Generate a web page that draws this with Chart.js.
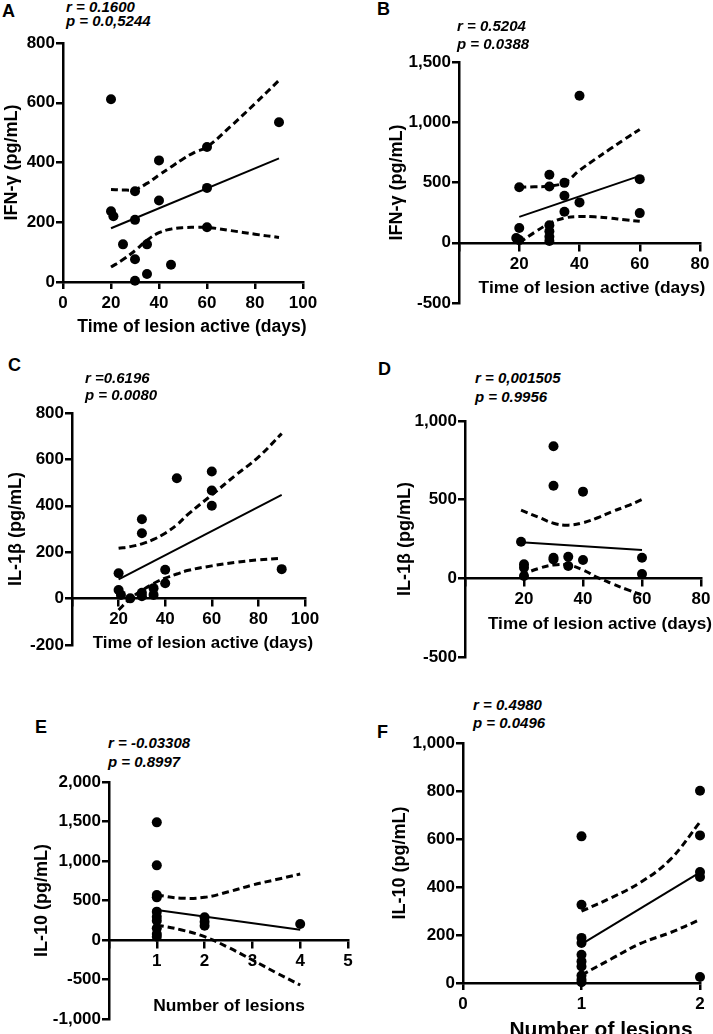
<!DOCTYPE html>
<html>
<head>
<meta charset="utf-8">
<script src="https://cdn.jsdelivr.net/npm/chart.js@4"></script>
<style>
  html, body { margin: 0; padding: 0; background: #fff; overflow: hidden; }
  #page { position: relative; width: 713px; height: 1034px; overflow: hidden; }
  canvas { position: absolute; }
  .lbl { position: absolute; font-family: "Liberation Sans", Arial, sans-serif; font-weight: bold; color: #000; white-space: nowrap; }
  .letter { font-size: 18px; line-height: 18px; }
  .stat { font-size: 15px; line-height: 15px; font-style: italic; }
  .xtitle { transform: translateX(-50%); }
</style>
</head>
<body>
<div id="page"></div>
<script>
// A - IFN-y vs time of lesion
const aDays = [20, 20, 21, 25, 30, 30, 30, 30, 35, 35, 40, 40, 45, 60, 60, 60, 90];
const aIfn = [612, 237, 220, 126, 304, 208, 76, 4, 126, 27, 407, 273, 58, 452, 315, 183, 535];
const aFitX = [20, 90];
const aFitY = [180, 414];
const aBandX = [20, 25, 30, 35, 40, 45, 50, 55, 60, 70, 80, 90];
const aUpper = [310, 308, 310, 330, 358, 385, 412, 435, 452, 522, 597, 675];
const aLower = [50, 75, 105, 140, 165, 177, 182, 183, 183, 172, 160, 149];

// B - IFN-y vs time of lesion
const bDays = [20, 20, 19, 20, 30, 30, 30, 30, 30, 30, 35, 35, 35, 40, 40, 60, 60];
const bIfn = [460, 122, 39, 22, 564, 467, 145, 95, 50, 15, 497, 390, 258, 1220, 335, 528, 246];
const bFitX = [20, 60];
const bFitY = [215, 555];
const bBandX = [20, 25, 30, 35, 40, 45, 50, 55, 60];
const bUpper = [460, 465, 470, 500, 600, 690, 775, 860, 940];
const bLower = [0, 85, 160, 205, 218, 215, 205, 190, 178];

// C - IL-1b vs time of lesion
const cDays = [20, 20, 21, 25, 30, 30, 30, 30, 35, 35, 40, 40, 45, 60, 60, 60, 90];
const cIl1b = [109, 37, 16, 1, 342, 282, 25, 10, 45, 16, 124, 66, 519, 548, 466, 400, 127];
const cFitX = [20, 90];
const cFitY = [83, 447];
const cBandX = [20, 25, 30, 35, 40, 45, 50, 60, 70, 80, 90];
const cUpper = [217, 224, 236, 255, 282, 318, 365, 447, 530, 610, 711];
const cLower = [-49, 0, 35, 65, 88, 106, 122, 141, 156, 167, 174];

// D - IL-1b vs time of lesion
const dDays = [19, 20, 20, 20, 30, 30, 30, 30, 35, 35, 40, 40, 60, 60];
const dIl1b = [232, 89, 68, 15, 839, 589, 131, 120, 137, 78, 551, 116, 131, 27];
const dFitX = [19, 60];
const dFitY = [230, 180];
const dBandX = [19, 25, 30, 35, 40, 45, 50, 55, 60];
const dUpper = [433, 388, 350, 338, 353, 385, 425, 460, 501];
const dLower = [21, 63, 85, 85, 53, 5, -35, -72, -106];

// E - IL-10 vs number of lesions
const eLesions = [1, 1, 1, 1, 1, 1, 1, 1, 1, 1, 2, 2, 2, 4];
const eIl10 = [1489, 945, 570, 540, 359, 295, 245, 148, 76, 42, 287, 232, 181, 203];
const eFitX = [1, 4];
const eFitY = [380, 130];
const eBandX = [1, 1.5, 2, 2.5, 3, 3.5, 4];
const eUpper = [570, 530, 540, 610, 696, 765, 835];
const eLower = [190, 130, 42, -95, -253, -415, -570];

// F - IL-10 vs number of lesions
const fLesions = [1, 1, 1, 1, 1, 1, 1, 1, 1, 1, 2, 2, 2, 2, 2];
const fIl10 = [611, 326, 188, 167, 118, 90, 69, 31, 14, 3, 801, 615, 462, 442, 25];
const fFitX = [1, 2];
const fFitY = [162, 461];
const fBandX = [1, 1.25, 1.5, 1.75, 2];
const fUpper = [299, 355, 420, 515, 671];
const fLower = [33, 100, 165, 210, 264];

const FONT = '"Liberation Sans", Arial, sans-serif';
const page = document.getElementById('page');

function pts(xs, ys) {
  return xs.map((x, i) => ({ x: x, y: ys[i] }));
}

function addText(cls, text, left, top, size) {
  const d = document.createElement('div');
  d.className = 'lbl ' + cls;
  d.textContent = text;
  d.style.left = left + 'px';
  d.style.top = top + 'px';
  if (size) {
    d.style.fontSize = size + 'px';
    d.style.lineHeight = size + 'px';
  }
  page.appendChild(d);
}

function panel(p) {
  const padT = 12, padR = 20;
  const zeroAxis = p.yMin < 0;
  const canvasLeft = p.yTitleX - 11;
  const canvasTop = p.top - padT;
  const yW = p.left - canvasLeft;
  const xH = 40;
  const padB = zeroAxis ? 12 : 0;

  const canvas = document.createElement('canvas');
  canvas.width = p.right + padR - canvasLeft;
  canvas.height = p.bottom + (zeroAxis ? padB : xH) - canvasTop;
  canvas.style.left = canvasLeft + 'px';
  canvas.style.top = canvasTop + 'px';
  page.appendChild(canvas);

  const line = { showLine: true, pointRadius: 0, borderColor: '#000', fill: false, clip: false };

  new Chart(canvas, {
    type: 'scatter',
    data: {
      datasets: [
        { data: pts(p.xs, p.ys), pointRadius: 5, pointBackgroundColor: '#000', pointBorderWidth: 0, clip: false },
        { ...line, data: pts(p.fitX, p.fitY), borderWidth: 2 },
        { ...line, data: pts(p.bandX, p.upper), borderWidth: 3, borderDash: [7, 4], tension: 0.4 },
        { ...line, data: pts(p.bandX, p.lower), borderWidth: 3, borderDash: [7, 4], tension: 0.4 }
      ]
    },
    options: {
      responsive: false,
      animation: false,
      layout: { padding: { top: padT, right: padR, left: 0, bottom: padB } },
      plugins: { legend: { display: false }, tooltip: { enabled: false } },
      scales: {
        x: {
          type: 'linear',
          position: zeroAxis ? { y: 0 } : 'bottom',
          min: p.xMin, max: p.xMax,
          afterFit: s => { s.height = xH; },
          grid: { display: true, drawOnChartArea: false, drawTicks: true, tickLength: 7, color: '#000', lineWidth: 2.5 },
          border: { display: true, color: '#000', width: 2.5 },
          ticks: {
            stepSize: p.xStep, autoSkip: false, maxRotation: 0, color: '#000', padding: 4,
            font: { family: FONT, size: 17, weight: 'bold' },
            callback: v => (zeroAxis && v === 0) ? '' : v.toLocaleString('en-US')
          },
          title: { display: false }
        },
        y: {
          min: p.yMin, max: p.yMax,
          afterFit: s => { s.width = yW; },
          grid: { display: true, drawOnChartArea: false, drawTicks: true, tickLength: 7, color: '#000', lineWidth: 2.5 },
          border: { display: true, color: '#000', width: 2.5 },
          ticks: {
            stepSize: p.yStep, color: '#000', padding: 1,
            font: { family: FONT, size: 17, weight: 'bold' },
            callback: v => v.toLocaleString('en-US')
          },
          title: { display: true, text: p.yTitle, color: '#000', padding: 0, font: { family: FONT, size: 18, weight: 'bold', lineHeight: 1.2 } }
        }
      }
    }
  });

  // x titles sit a little right of the axis centre in the original
  addText('xtitle', p.xTitle, p.xTitleX, p.xTitleY - 0.49 * p.xTitleSize, p.xTitleSize);
  addText('letter', p.letter, p.letterX, p.letterY);
  addText('stat', p.r, p.statX, p.rY);
  addText('stat', p.p, p.statX, p.pY);
}

panel({ letter: 'A', letterX: 2, letterY: 2, r: 'r = 0.1600', p: 'p = 0.0,5244', statX: 66, rY: -1, pY: 13,
  left: 63, right: 303, top: 43, bottom: 282, xMin: 0, xMax: 100, xStep: 20, yMin: 0, yMax: 800, yStep: 200,
  yTitleX: 12, xTitleX: 192, xTitleY: 327, xTitleSize: 17.6, xTitle: 'Time of lesion active (days)', yTitle: 'IFN-γ (pg/mL)',
  xs: aDays, ys: aIfn, fitX: aFitX, fitY: aFitY, bandX: aBandX, upper: aUpper, lower: aLower });

panel({ letter: 'B', letterX: 377, letterY: 0, r: 'r = 0.5204', p: 'p = 0.0388', statX: 457, rY: 18, pY: 36,
  left: 459, right: 700, top: 62, bottom: 303, xMin: 0, xMax: 80, xStep: 20, yMin: -500, yMax: 1500, yStep: 500,
  yTitleX: 397, xTitleX: 592, xTitleY: 288, xTitleSize: 17.4, xTitle: 'Time of lesion active (days)', yTitle: 'IFN-γ (pg/mL)',
  xs: bDays, ys: bIfn, fitX: bFitX, fitY: bFitY, bandX: bBandX, upper: bUpper, lower: bLower });

panel({ letter: 'C', letterX: 8, letterY: 356, r: 'r =0.6196', p: 'p = 0.0080', statX: 85, rY: 370, pY: 387,
  left: 72, right: 305, top: 413, bottom: 645, xMin: 0, xMax: 100, xStep: 20, yMin: -200, yMax: 800, yStep: 200,
  yTitleX: 16, xTitleX: 203, xTitleY: 643.5, xTitleSize: 16.9, xTitle: 'Time of lesion active (days)', yTitle: 'IL-1β (pg/mL)',
  xs: cDays, ys: cIl1b, fitX: cFitX, fitY: cFitY, bandX: cBandX, upper: cUpper, lower: cLower });

panel({ letter: 'D', letterX: 378, letterY: 360, r: 'r = 0,001505', p: 'p = 0.9956', statX: 475, rY: 370, pY: 389,
  left: 465, right: 701, top: 421, bottom: 657, xMin: 0, xMax: 80, xStep: 20, yMin: -500, yMax: 1000, yStep: 500,
  yTitleX: 405, xTitleX: 600, xTitleY: 623.5, xTitleSize: 17.2, xTitle: 'Time of lesion active (days)', yTitle: 'IL-1β (pg/mL)',
  xs: dDays, ys: dIl1b, fitX: dFitX, fitY: dFitY, bandX: dBandX, upper: dUpper, lower: dLower });

panel({ letter: 'E', letterX: 35, letterY: 718, r: 'r = -0.03308', p: 'p = 0.8997', statX: 108, rY: 735, pY: 754,
  left: 109, right: 348, top: 782, bottom: 1019, xMin: 0, xMax: 5, xStep: 1, yMin: -1000, yMax: 2000, yStep: 500,
  yTitleX: 42, xTitleX: 229, xTitleY: 1006, xTitleSize: 17.4, xTitle: 'Number of lesions', yTitle: 'IL-10 (pg/mL)',
  xs: eLesions, ys: eIl10, fitX: eFitX, fitY: eFitY, bandX: eBandX, upper: eUpper, lower: eLower });

panel({ letter: 'F', letterX: 377, letterY: 723, r: 'r = 0.4980', p: 'p = 0.0496', statX: 473, rY: 697, pY: 715,
  left: 463, right: 700, top: 743, bottom: 983, xMin: 0, xMax: 2, xStep: 1, yMin: 0, yMax: 1000, yStep: 200,
  yTitleX: 400, xTitleX: 601, xTitleY: 1028, xTitleSize: 21, xTitle: 'Number of lesions', yTitle: 'IL-10 (pg/mL)',
  xs: fLesions, ys: fIl10, fitX: fFitX, fitY: fFitY, bandX: fBandX, upper: fUpper, lower: fLower });
</script>
</body>
</html>
